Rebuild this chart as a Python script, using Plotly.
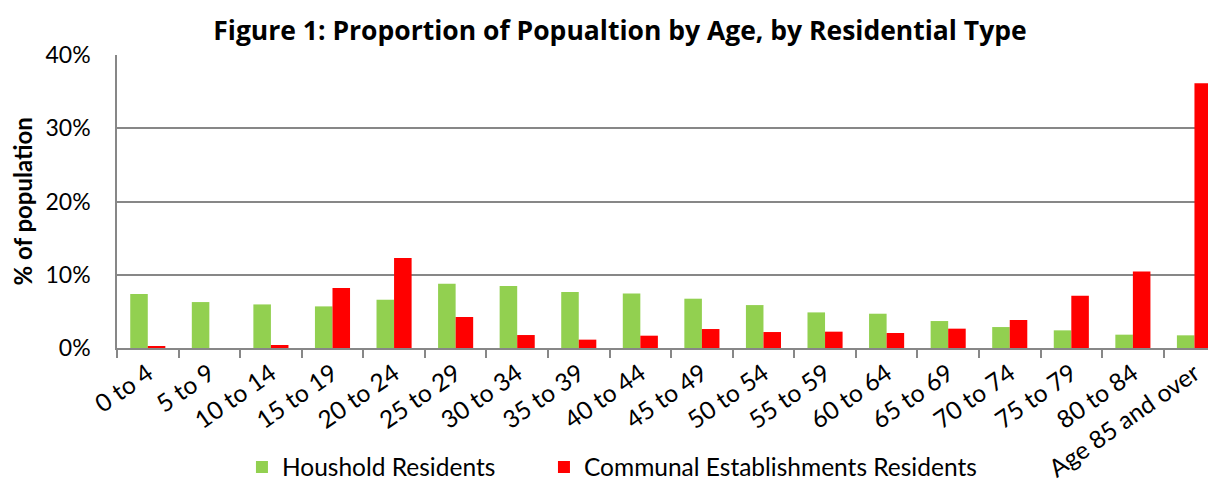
import plotly.graph_objects as go

categories = ["0 to 4", "5 to 9", "10 to 14", "15 to 19", "20 to 24", "25 to 29",
              "30 to 34", "35 to 39", "40 to 44", "45 to 49", "50 to 54", "55 to 59",
              "60 to 64", "65 to 69", "70 to 74", "75 to 79", "80 to 84", "Age 85 and over"]
household = [7.36, 6.27, 5.95, 5.68, 6.59, 8.77, 8.45, 7.64, 7.45, 6.73, 5.86, 4.86,
             4.68, 3.68, 2.86, 2.41, 1.82, 1.73]
communal = [0.18, 0.0, 0.41, 8.18, 12.27, 4.23, 1.77, 1.14, 1.68, 2.59, 2.18, 2.23,
            2.05, 2.64, 3.82, 7.14, 10.45, 36.14]
y_ticks = [0, 0.1, 0.2, 0.3, 0.4]

FONT = "Lato"
GRAY = "#878787"

fig = go.Figure()
fig.add_trace(go.Bar(x=categories, y=[v / 100 for v in household], name="Houshold Residents",
                     marker=dict(color="#92D050", line=dict(width=0)), legend="legend"))
fig.add_trace(go.Bar(x=categories, y=[v / 100 for v in communal],
                     name="Communal Establishments Residents",
                     marker=dict(color="#FF0000", line=dict(width=0)), legend="legend2"))

legend_common = dict(orientation="h", y=-0.406, yanchor="middle",
                     font=dict(family=FONT, size=24.5, color="black"),
                     itemwidth=30, bgcolor="rgba(0,0,0,0)")

fig.update_layout(
    width=1208, height=474,
    margin=dict(l=109, r=0, t=47, b=134, autoexpand=False),
    paper_bgcolor="white", plot_bgcolor="white",
    barmode="group", bargap=0.43, bargroupgap=0,
    font=dict(family=FONT, color="black", size=23),
    title=dict(text="<b>Figure 1: Proportion of Popualtion by Age, by Residential Type</b>",
               x=0.5066, xanchor="center", y=0.953, yanchor="middle",
               font=dict(family="Open Sans", size=26.5, color="black")),
    showlegend=True,
    legend=dict(x=0.1137, xanchor="left", **legend_common),
    legend2=dict(x=0.3885, xanchor="left", **legend_common),
    xaxis=dict(type="category", range=[-0.5, 17.35], tickangle=-35,
               showline=True, linecolor=GRAY, linewidth=1.5,
               ticks="outside", tickson="boundaries", ticklen=8, tickcolor=GRAY, tickwidth=1.5,
               tickfont=dict(family=FONT, size=24.5), showgrid=False, automargin=False),
    yaxis=dict(range=[0, 0.40], tickvals=y_ticks, tickformat=".0%",
               showline=True, linecolor=GRAY, linewidth=1.5,
               showgrid=True, gridcolor=GRAY, gridwidth=1.5,
               zeroline=False, ticks="", ticklabelstandoff=20,
               tickfont=dict(family=FONT, size=23), automargin=False),
    annotations=[dict(text="<b>% of population</b>", textangle=-90,
                      xref="paper", yref="paper", x=-0.0864, y=0.5,
                      xanchor="center", yanchor="middle", showarrow=False,
                      font=dict(family=FONT, size=24, color="black"))],
)

fig.write_html("out.html")
